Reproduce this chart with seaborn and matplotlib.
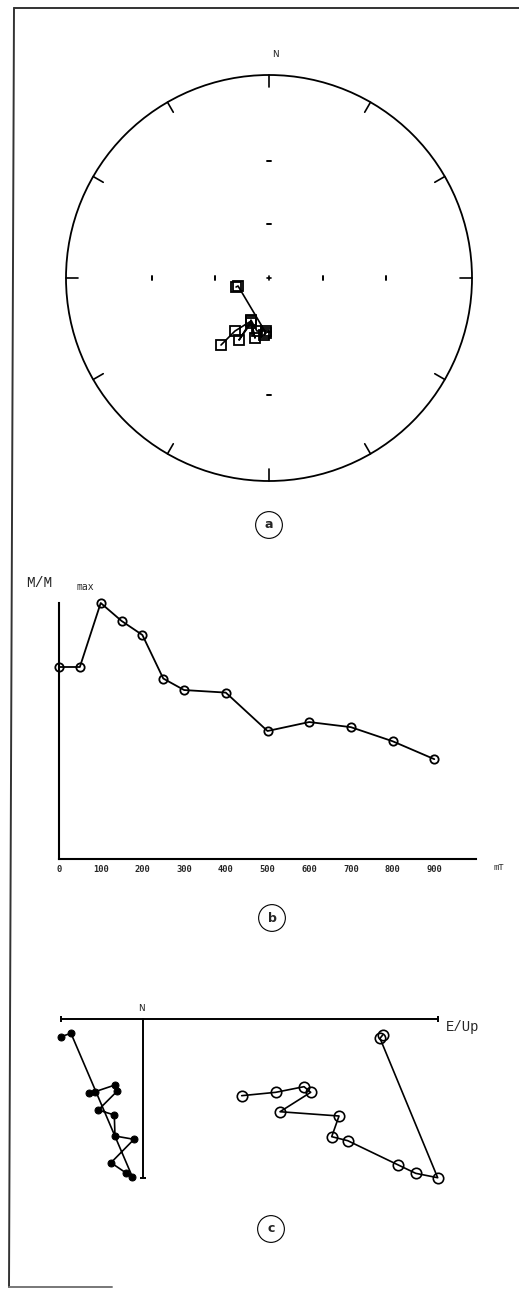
import numpy as np
import pandas as pd
import matplotlib
matplotlib.use("Agg")
import matplotlib.pyplot as plt
from matplotlib.lines import Line2D
import seaborn as sns

# Alternating-field demagnetisation steps (mT)
steps = [0, 50, 100, 150, 200, 250, 300, 400, 500, 600, 700, 800, 900]

# (a) remanence directions at each step
declination = [254.7, 255.5, 183.1, 185.0, 183.2, 192.8, 203.2, 193.1, 201.8, 205.8, 202.7, 212.7, 215.6]
inclination = [70.9, 72.1, 59.6, 58.5, 60.7, 60.0, 64.6, 56.2, 63.1, 52.5, 64.1, 55.5, 45.8]

# (b) normalised remanence intensity M/Mmax
intensity = [0.75, 0.75, 1.0, 0.93, 0.875, 0.705, 0.66, 0.65, 0.50, 0.535, 0.515, 0.46, 0.39]

# (c) orthogonal vector components (arbitrary units)
horiz_x = [-2.065, -1.808, -0.275, -0.44, -0.808, -0.233, -0.708, -0.725, -1.125, -0.65, -0.708, -1.208, -1.358]
horiz_y = [-0.443, -0.358, -3.943, -3.843, -3.593, -3.008, -2.925, -2.40, -2.275, -1.80, -1.65, -1.818, -1.858]
vert_x = [5.985, 5.918, 7.36, 6.81, 6.375, 5.11, 4.71, 4.893, 3.418, 4.185, 4.018, 3.31, 2.46]
vert_y = [-0.40, -0.483, -3.968, -3.858, -3.65, -3.042, -2.942, -2.425, -2.318, -1.833, -1.692, -1.833, -1.917]

field_ticks = [0, 100, 200, 300, 400, 500, 600, 700, 800, 900, 1000]
field_tick_labels = ["0", "100", "200", "300", "400", "500", "600", "700", "800", "900", ""]

sns.set_style("white")
plt.rcParams["font.family"] = ["DejaVu Sans"]
MONO = "Liberation Mono"

W, H = 519, 1289
fig = plt.figure(figsize=(W / 100, H / 100), dpi=100)
fig.patch.set_facecolor("white")


def box(left, top, right, bottom):
    return [left / W, 1 - bottom / H, (right - left) / W, (bottom - top) / H]


def fpt(x, y):
    return x / W, 1 - y / H


# page frame
for xs, ys, c in [([14, 519], [8, 8], "#333333"),
                  ([14, 9], [8, 1287], "#333333"),
                  ([9, 112], [1287, 1287], "#777777")]:
    fig.add_artist(Line2D([x / W for x in xs], [1 - y / H for y in ys],
                          transform=fig.transFigure, color=c, lw=1.4))

# ---------------- (a) equal-angle stereonet ----------------
ax_a = fig.add_axes(box(66, 75, 472, 481))
ax_a.set_xlim(-1, 1)
ax_a.set_ylim(-1, 1)
ax_a.set_aspect("equal")
ax_a.axis("off")

ax_a.add_patch(plt.Circle((0, 0), 1.0, fill=False, ec="black", lw=1.3, clip_on=False))
for az in range(0, 360, 30):
    t = np.radians(az)
    ax_a.plot([0.943 * np.sin(t), np.sin(t)], [0.943 * np.cos(t), np.cos(t)],
              color="black", lw=1.2, clip_on=False)

# inclination marks at 60 and 30 degrees along the cardinal axes
for inc_mark in (60, 30):
    r = np.tan(np.radians(90 - inc_mark) / 2)
    d = 0.011
    for s in (-1, 1):
        ax_a.plot([s * r, s * r], [-d, d], color="black", lw=1.4)
        ax_a.plot([-d, d], [s * r, s * r], color="black", lw=1.4)
ax_a.plot([-0.011, 0.011], [0, 0], color="black", lw=1.2)
ax_a.plot([0, 0], [-0.011, 0.011], color="black", lw=1.2)

r_proj = np.tan(np.radians(90 - np.array(inclination)) / 2)
dirs = pd.DataFrame({
    "step": steps,
    "east": r_proj * np.sin(np.radians(declination)),
    "north": r_proj * np.cos(np.radians(declination)),
})
sns.lineplot(data=dirs, x="east", y="north", sort=False, estimator=None, ax=ax_a,
             color="black", lw=1.2, marker="s", markersize=7,
             markerfacecolor="none", markeredgecolor="black", markeredgewidth=1.3)
ax_a.set_xlim(-1, 1)
ax_a.set_ylim(-1, 1)
ax_a.axis("off")

fig.text(*fpt(275, 54), "N", fontsize=8, family=MONO, ha="center", va="center")

# ---------------- (b) intensity decay ----------------
ax_b = fig.add_axes(box(59, 603, 476, 859))
demag = pd.DataFrame({"field": steps, "M": intensity})
sns.lineplot(data=demag, x="field", y="M", sort=False, estimator=None, ax=ax_b,
             color="black", lw=1.3, marker="o", markersize=6,
             markerfacecolor="none", markeredgecolor="black", markeredgewidth=1.3,
             clip_on=False)
ax_b.set_xlim(0, 1000)
ax_b.set_ylim(0, 1)
ax_b.set_facecolor("none")
for side in ("top", "right"):
    ax_b.spines[side].set_visible(False)
for side in ("left", "bottom"):
    ax_b.spines[side].set_color("black")
    ax_b.spines[side].set_linewidth(1.5)
ax_b.set_xticks(field_ticks)
ax_b.set_xticklabels(field_tick_labels, family="DejaVu Sans Mono", fontsize=6.3, fontweight="bold")
ax_b.set_yticks([1.0])
ax_b.set_yticklabels([""])
ax_b.tick_params(axis="x", direction="in", length=4, width=1.3, pad=4, color="black")
ax_b.tick_params(axis="y", direction="in", length=5, width=1.3, color="black")
ax_b.set_xlabel("")
ax_b.set_ylabel("")

fig.text(*fpt(39, 583), "M/M", fontsize=10.5, family=MONO, ha="center", va="center")
fig.text(*fpt(85, 587), "max", fontsize=7, family="DejaVu Sans Mono", ha="center", va="center")
fig.text(*fpt(499, 868), "mT", fontsize=6.5, family=MONO, ha="center", va="center")

# ---------------- (c) orthogonal vector plot ----------------
ax_c = fig.add_axes(box(40, 990, 500, 1200))
unit = 40.0
ax_c.set_xlim((40 - 143.3) / unit, (500 - 143.3) / unit)
ax_c.set_ylim(-(1200 - 1019) / unit, -(990 - 1019) / unit)
ax_c.axis("off")

all_x = horiz_x + vert_x
all_y = horiz_y + vert_y
x_lo, x_hi = min(all_x), max(all_x)
y_lo = min(all_y)
ax_c.plot([x_lo, x_hi], [0, 0], color="black", lw=1.4)
ax_c.plot([x_lo, x_hi], [0, 0], ls="none", marker="|", ms=5, mew=1.4, color="black")
ax_c.plot([0, 0], [0, y_lo], color="black", lw=1.4)
ax_c.plot([0], [y_lo], ls="none", marker="_", ms=5, mew=1.4, color="black")

horiz = pd.DataFrame({"x": horiz_x, "y": horiz_y})
vert = pd.DataFrame({"x": vert_x, "y": vert_y})
sns.lineplot(data=horiz, x="x", y="y", sort=False, estimator=None, ax=ax_c,
             color="black", lw=1.2, marker="o", markersize=5,
             markerfacecolor="black", markeredgecolor="black")
sns.lineplot(data=vert, x="x", y="y", sort=False, estimator=None, ax=ax_c,
             color="black", lw=1.2, marker="o", markersize=7.5,
             markerfacecolor="none", markeredgecolor="black", markeredgewidth=1.2)
ax_c.set_xlim((40 - 143.3) / unit, (500 - 143.3) / unit)
ax_c.set_ylim(-(1200 - 1019) / unit, -(990 - 1019) / unit)
ax_c.axis("off")

fig.text(*fpt(141, 1008), "N", fontsize=8, family=MONO, ha="center", va="center")
fig.text(*fpt(446, 1027), "E/Up", fontsize=10, family=MONO, ha="left", va="center")

# panel letters
for letter, (px, py) in zip("abc", [(269, 525), (272, 918), (271, 1229)]):
    fig.text(*fpt(px, py), letter, fontsize=9, fontweight="bold", ha="center", va="center",
             bbox=dict(boxstyle="circle,pad=0.55", fc="white", ec="black", lw=0.8))

fig.savefig("out.png", dpi=100, facecolor="white")
